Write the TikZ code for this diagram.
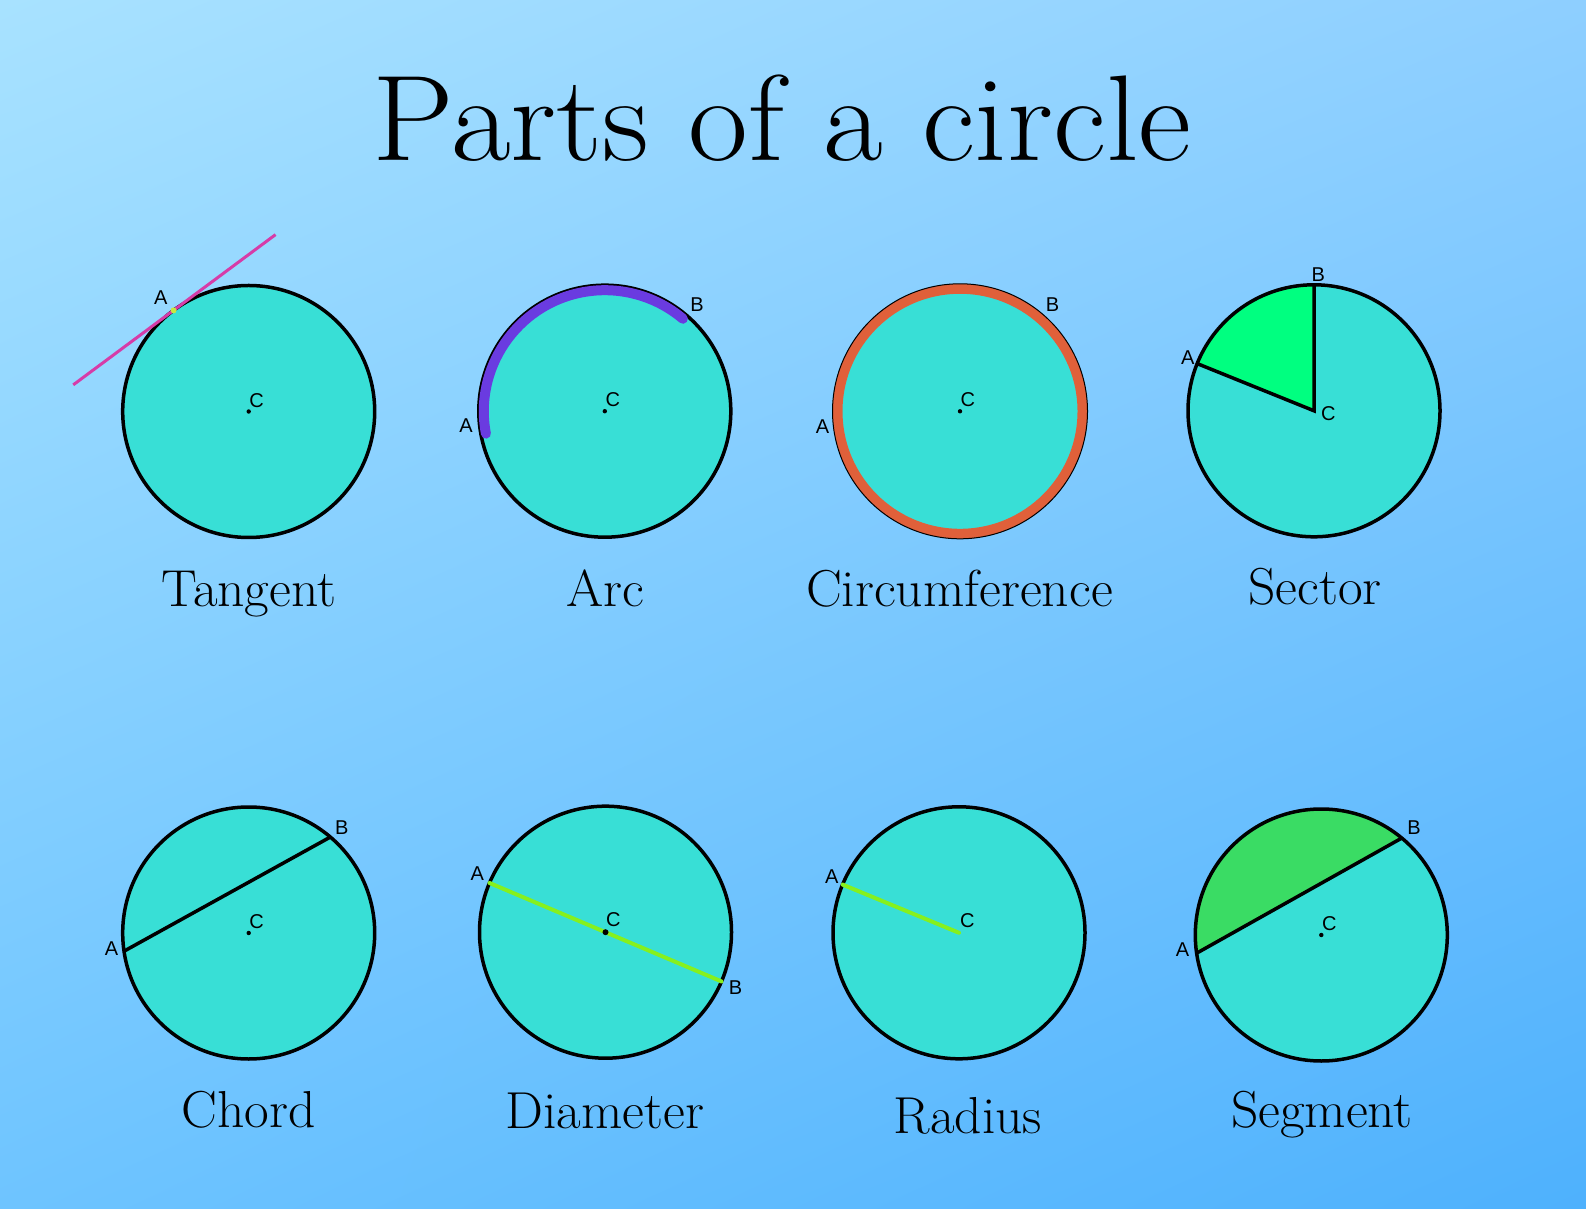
\documentclass[tikz,border=0pt]{standalone}
\usepackage{fontspec}
\newfontfamily\ptfont{Liberation Sans}
\usetikzlibrary{positioning,shadings}
\definecolor{bgul}{HTML}{A8E2FF}
\definecolor{bgur}{HTML}{8ECFFF}
\definecolor{bgll}{HTML}{6EC4FF}
\definecolor{bglr}{HTML}{4EB1FD}
\definecolor{discfill}{HTML}{38DFD6}
\definecolor{tanpink}{HTML}{D63CA8}
\definecolor{touchdot}{HTML}{C8E640}
\definecolor{arcpurple}{HTML}{6A3BE0}
\definecolor{ringorange}{HTML}{E0603A}
\definecolor{sectorgreen}{HTML}{00FF80}
\definecolor{segmentgreen}{HTML}{3ADC64}
\definecolor{linegreen}{HTML}{86F01E}

\begin{document}
\begin{tikzpicture}[
    x=1pt, y=1pt,
    disc/.style={draw=black, line width=3.5pt, fill=discfill},
    outline/.style={draw=black, line width=3.5pt},
    greenline/.style={draw=linegreen, line width=4pt, line cap=round},
    ptlbl/.style={font=\ptfont\fontsize{20}{20}\selectfont, inner sep=0pt},
    clbl/.style={ptlbl, anchor=south west},
    partname/.style={font=\fontsize{52}{52}\selectfont, anchor=base, inner sep=0pt, xscale=1.03}
]

% background
\shade[upper left=bgul, upper right=bgur, lower left=bgll, lower right=bglr] (0,0) rectangle (1586,1208);
\useasboundingbox (0,0) rectangle (1586,1208);

\node[font=\fontsize{122}{122}\selectfont, anchor=base, inner sep=0pt, xscale=1.065] (title) at (782,1047) {Parts of a circle};

% Tangent
\begin{scope}[shift={(248.7,796.5)}]
  \coordinate (c1) at (0,0);
  \coordinate (a1) at (126.6:126);
  \path (a1) ++(216.6:125) coordinate (tanlo);
  \path (a1) ++(36.6:127) coordinate (tanhi);
  \draw[disc] (c1) circle[radius=126];
  \draw[tanpink, line width=3pt] (tanlo) -- (tanhi);
  \fill[touchdot] (a1) circle[radius=3];
  \fill (c1) circle[radius=2.2];
  \node[ptlbl] (a1lbl) at (127.6:144) {A};
  \node[clbl] (c1lbl) at (0.5,4) {C};
\end{scope}

% Arc
\begin{scope}[shift={(604.8,796.8)}]
  \coordinate (c2) at (0,0);
  \coordinate (a2) at (190.7:121);
  \draw[disc] (c2) circle[radius=126];
  \draw[arcpurple, line width=10pt, line cap=round] (a2) arc[start angle=190.7, end angle=49.8, radius=121];
  \fill (c2) circle[radius=2.2];
  \node[ptlbl] (a2lbl) at (185.9:139.5) {A};
  \node[ptlbl] (b2lbl) at (49.2:141) {B};
  \node[clbl] (c2lbl) at (0.5,4) {C};
\end{scope}

% Circumference
\begin{scope}[shift={(960,796.7)}]
  \coordinate (c3) at (0,0);
  \fill[discfill] (c3) circle[radius=127];
  \draw[ringorange, line width=10pt] (c3) circle[radius=122.5];
  \draw[black, line width=1pt] (c3) circle[radius=127.5];
  \fill (c3) circle[radius=2.2];
  \node[ptlbl] (a3lbl) at (186.2:138.3) {A};
  \node[ptlbl] (b3lbl) at (49.1:141.3) {B};
  \node[clbl] (c3lbl) at (0.5,4) {C};
\end{scope}

% Sector
\begin{scope}[shift={(1314,797.2)}]
  \coordinate (c4) at (0,0);
  \coordinate (a4) at (158:126);
  \coordinate (b4) at (90:126);
  \fill[discfill] (c4) circle[radius=126];
  \fill[sectorgreen] (c4) -- (a4) arc[start angle=158, end angle=90, radius=126] -- cycle;
  \draw[outline] (c4) circle[radius=126];
  \draw[outline, line join=miter] (a4) -- (c4) -- (b4);
  \node[ptlbl] (a4lbl) at (157.2:136.9) {A};
  \node[ptlbl] (b4lbl) at (88.2:136.4) {B};
  \node[ptlbl] (c4lbl) at (14.3,-3.2) {C};
\end{scope}

% Chord
\begin{scope}[shift={(248.7,275)}]
  \coordinate (c5) at (0,0);
  \coordinate (a5) at (188.3:126);
  \coordinate (b5) at (49.6:126);
  \draw[disc] (c5) circle[radius=126];
  \draw[outline] (a5) -- (b5);
  \fill (c5) circle[radius=2.2];
  \node[ptlbl] (a5lbl) at (186.4:138) {A};
  \node[ptlbl] (b5lbl) at (48.7:140.9) {B};
  \node[clbl] (c5lbl) at (0.5,4) {C};
\end{scope}

% Diameter
\begin{scope}[shift={(605.5,275.8)}]
  \coordinate (c6) at (0,0);
  \coordinate (a6) at (157:126);
  \coordinate (b6) at (-23:126);
  \draw[disc] (c6) circle[radius=126];
  \draw[greenline] (a6) -- (b6);
  \fill (c6) circle[radius=3];
  \node[ptlbl] (a6lbl) at (155.3:141) {A};
  \node[ptlbl] (b6lbl) at (-23:141.3) {B};
  \node[clbl] (c6lbl) at (0.5,5) {C};
\end{scope}

% Radius
\begin{scope}[shift={(959,275.2)}]
  \coordinate (c7) at (0,0);
  \coordinate (a7) at (157.5:126);
  \draw[disc] (c7) circle[radius=126];
  \draw[greenline] (a7) -- (c7);
  \node[ptlbl] (a7lbl) at (156:139.3) {A};
  \node[clbl] (c7lbl) at (1,5) {C};
\end{scope}

% Segment
\begin{scope}[shift={(1321.3,273)}]
  \coordinate (c8) at (0,0);
  \coordinate (a8) at (188.3:126);
  \coordinate (b8) at (50.3:126);
  \fill[discfill] (c8) circle[radius=126];
  \fill[segmentgreen] (a8) arc[start angle=188.3, end angle=50.3, radius=126] -- cycle;
  \draw[outline] (c8) circle[radius=126];
  \draw[outline] (a8) -- (b8);
  \fill (c8) circle[radius=2.2];
  \node[ptlbl] (a8lbl) at (186.2:139.6) {A};
  \node[ptlbl] (b8lbl) at (49.3:142.2) {B};
  \node[clbl] (c8lbl) at (0.5,4) {C};
\end{scope}

% names of the parts
\node[partname] (tangent) at (248.8,601) {Tangent};
\node[partname] (arc) at (605,601) {Arc};
\node[partname] (circum) at (959.4,601) {Circumference};
\node[partname] (sector) at (1315,603) {Sector};
\node[partname] (chord) at (248.8,81) {Chord};
\node[partname] (diameter) at (605,80) {Diameter};
\node[partname] (radius) at (968,75) {Radius};
\node[partname] (segment) at (1322,81) {Segment};

\end{tikzpicture}
\end{document}
